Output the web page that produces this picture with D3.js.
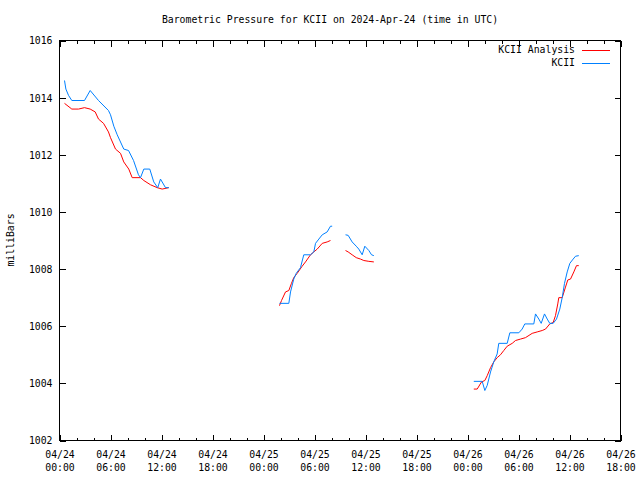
<!DOCTYPE html>
<html><head><meta charset="utf-8">
<script src="https://cdn.jsdelivr.net/npm/d3@7"></script>
<style>
html,body{margin:0;padding:0;background:#fff;}
text{font-family:"DejaVu Sans Mono",monospace;font-size:9.8px;fill:#000;}
</style></head>
<body><svg id="c" width="640" height="480"></svg>
<script>
const title = "Barometric Pressure for KCII on 2024-Apr-24 (time in UTC)";
const yLabel = "milliBars";
const seriesNames = ["KCII Analysis", "KCII"];
const seriesColors = ["#ff0000", "#0080ff"];
const yTicks = [1002, 1004, 1006, 1008, 1010, 1012, 1014, 1016];
const startTime = "2024-04-24T00:00:00Z";
const endTime = "2024-04-26T18:00:00Z";

// hours since 2024-04-24 00:00 UTC ; null marks a gap
const analysisHours = [0.59,1.45,2.24,2.94,3.61,4.2,4.59,5.18,5.76,6.0,6.59,7.18,7.56,8.15,8.55,9.53,9.92,10.71,11.49,12.08,12.86,
  null,
  25.88,26.12,26.59,26.98,27.29,27.56,27.96,28.55,28.94,29.53,29.92,30.32,30.91,31.49,31.88,
  null,
  33.65,33.96,34.43,34.91,35.41,35.8,36.39,36.98,
  null,
  48.74,49.14,49.65,50.04,50.32,50.71,51.09,51.49,51.88,52.27,52.67,53.26,53.65,54.24,54.82,55.61,56.2,56.79,57.18,57.68,58.08,58.35,58.62,58.74,59.14,59.53,59.8,60.12,60.51,60.82,61.09];
const analysisValues = [1013.8,1013.6,1013.6,1013.65,1013.6,1013.5,1013.25,1013.1,1012.8,1012.6,1012.2,1012.05,1011.75,1011.5,1011.2,1011.2,1011.1,1010.95,1010.85,1010.8,1010.85,
  null,
  1006.72,1006.9,1007.2,1007.25,1007.5,1007.7,1007.85,1008.1,1008.25,1008.5,1008.6,1008.7,1008.9,1008.95,1009.0,
  null,
  1008.65,1008.6,1008.5,1008.4,1008.35,1008.3,1008.27,1008.25,
  null,
  1003.8,1003.8,1004.05,1004.1,1004.27,1004.55,1004.75,1004.9,1005.0,1005.15,1005.3,1005.4,1005.5,1005.55,1005.6,1005.75,1005.8,1005.85,1005.9,1006.08,1006.13,1006.37,1006.78,1007.0,1007.0,1007.37,1007.62,1007.65,1007.9,1008.12,1008.12];

const obsHours = [0.59,0.75,1.06,1.45,2.94,3.61,4.59,5.76,6.0,6.39,6.79,7.56,8.12,8.71,9.29,9.53,9.92,10.62,11.09,11.56,11.88,12.47,12.86,
  null,
  25.88,26.98,27.18,27.56,27.85,28.35,28.74,29.53,29.92,30.12,30.51,30.91,31.49,31.88,32.08,
  null,
  33.65,33.96,34.43,34.91,35.21,35.61,35.92,36.39,36.71,36.98,
  null,
  48.74,49.73,50.04,50.32,50.71,51.09,51.49,51.68,52.67,52.98,54.04,54.43,54.74,55.8,56.0,56.39,56.67,57.06,57.38,57.68,58.08,58.47,58.86,59.14,59.41,59.73,60.04,60.43,60.71,61.09];
const obsValues = [1014.6,1014.3,1014.08,1013.9,1013.9,1014.25,1013.9,1013.55,1013.4,1013.0,1012.7,1012.2,1012.15,1011.8,1011.3,1011.2,1011.5,1011.5,1011.05,1010.85,1011.15,1010.85,1010.85,
  null,
  1006.8,1006.8,1007.2,1007.65,1007.85,1008.05,1008.5,1008.5,1008.6,1008.9,1009.05,1009.2,1009.3,1009.5,1009.5,
  null,
  1009.2,1009.18,1008.95,1008.8,1008.7,1008.5,1008.8,1008.65,1008.5,1008.47,
  null,
  1004.07,1004.07,1003.75,1003.93,1004.4,1004.75,1005.03,1005.4,1005.4,1005.77,1005.77,1005.9,1006.08,1006.08,1006.43,1006.25,1006.1,1006.43,1006.25,1006.1,1006.1,1006.25,1006.6,1007.0,1007.5,1007.9,1008.2,1008.35,1008.45,1008.47];

const svg = d3.select("#c");
const L = 59.5, R = 620.5, T = 40.5, B = 440.5;
const t0 = new Date(startTime), t1 = new Date(endTime);
const x = d3.scaleUtc().domain([t0, t1]).range([L, R]);
const y = d3.scaleLinear().domain([1002, 1016]).range([B, T]);
const toDate = h => new Date(t0.getTime() + h * 3600e3);

const minorTicks = d3.utcHour.every(2).range(t0, new Date(t1.getTime() + 1));
const majorTicks = d3.utcHour.every(6).range(t0, new Date(t1.getTime() + 1));

function styleAxis(g) {
  g.select(".domain").remove();
  g.selectAll("line").attr("stroke", "#000").attr("shape-rendering", "crispEdges");
}

svg.append("g").attr("transform", `translate(0,${B})`)
  .call(d3.axisBottom(x).tickValues(minorTicks).tickSize(-3).tickFormat(""))
  .call(styleAxis);
svg.append("g").attr("transform", `translate(0,${T})`)
  .call(d3.axisTop(x).tickValues(minorTicks).tickSize(-3).tickFormat(""))
  .call(styleAxis);
svg.append("g").attr("transform", `translate(0,${T})`)
  .call(d3.axisTop(x).tickValues(majorTicks).tickSize(-6).tickFormat(""))
  .call(styleAxis);

const xAxis = svg.append("g").attr("transform", `translate(0,${B})`)
  .call(d3.axisBottom(x).tickValues(majorTicks).tickSize(-6).tickPadding(0).tickFormat(d3.utcFormat("%m/%d")))
  .call(styleAxis);
xAxis.selectAll("text").each(function(d) {
  const t = d3.select(this);
  t.text(null).attr("y", 0).attr("dy", null).attr("font-family", null).attr("font-size", null);
  t.append("tspan").attr("x", 0).attr("y", 17).text(d3.utcFormat("%m/%d")(d));
  t.append("tspan").attr("x", 0).attr("y", 30).text(d3.utcFormat("%H:%M")(d));
});

const yAxis = svg.append("g").attr("transform", `translate(${L},0)`)
  .call(d3.axisLeft(y).tickValues(yTicks).tickSize(-6).tickPadding(7).tickFormat(d3.format("d")))
  .call(styleAxis);
yAxis.selectAll("text").attr("font-family", null).attr("font-size", null).attr("dy", "0.35em");
svg.append("g").attr("transform", `translate(${R},0)`)
  .call(d3.axisRight(y).tickValues(yTicks).tickSize(-6).tickFormat(""))
  .call(styleAxis);

svg.append("rect").attr("x", L).attr("y", T).attr("width", R - L).attr("height", B - T)
  .attr("fill", "none").attr("stroke", "#000").attr("shape-rendering", "crispEdges");

svg.append("text").attr("x", 330).attr("y", 23).attr("text-anchor", "middle").text(title);
svg.append("text").attr("transform", "translate(14,240) rotate(-90)").attr("text-anchor", "middle").text(yLabel);

const line = d3.line()
  .defined(d => d[0] !== null && d[1] !== null)
  .x(d => x(toDate(d[0])))
  .y(d => y(d[1]));

const analysisData = analysisHours.map((h, i) => [h, analysisValues[i]]);
const obsData = obsHours.map((h, i) => [h, obsValues[i]]);

svg.append("path").datum(analysisData).attr("d", line)
  .attr("fill", "none").attr("stroke", seriesColors[0]).attr("stroke-width", 1);
svg.append("path").datum(obsData).attr("d", line)
  .attr("fill", "none").attr("stroke", seriesColors[1]).attr("stroke-width", 1);

const legend = svg.append("g");
seriesNames.forEach((n, i) => {
  const ly = 50 + i * 13;
  legend.append("text").attr("x", 575).attr("y", ly).attr("dy", "0.35em").attr("text-anchor", "end").text(n);
  legend.append("line").attr("x1", 582).attr("x2", 610).attr("y1", ly + 0.5).attr("y2", ly + 0.5)
    .attr("stroke", seriesColors[i]).attr("shape-rendering", "crispEdges");
});
</script></body></html>
